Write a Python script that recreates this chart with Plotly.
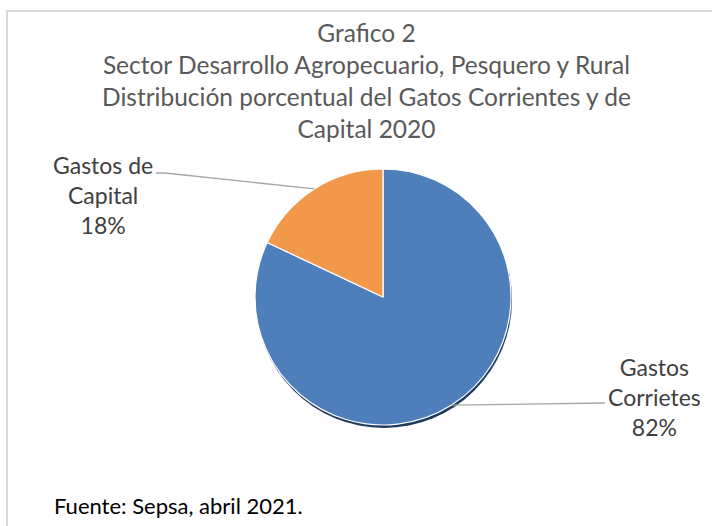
import math
import plotly.graph_objects as go

# ---- data ----
categories = ["Gastos Corrietes", "Gastos de Capital"]
values = [82, 18]
colors = ["#4e7fbb", "#f1984b"]
title_lines = [
    "Grafico 2",
    "Sector Desarrollo Agropecuario, Pesquero y Rural",
    "Distribución porcentual del Gatos Corrientes y de",
    "Capital 2020",
]
source_text = "Fuente: Sepsa, abril 2021."

W, H = 712, 526
FONT = "Lato"

# pie geometry (pixels)
cx, cy, r = 383, 297, 128


def px(x):
    return x / W


def py(y):
    return 1 - y / H


dom_x = [px(cx - r), px(cx + r)]
dom_y = [py(cy + r), py(cy - r)]
sh = 3  # shadow offset
dom_y_sh = [py(cy + r + sh), py(cy - r + sh)]
dom_x_sh = [px(cx - r + 1), px(cx + r + 1)]

fig = go.Figure()
# shadow
fig.add_trace(go.Pie(values=[1], marker=dict(colors=["#203a5e"]), textinfo="none",
                     hoverinfo="skip", sort=False, domain=dict(x=dom_x_sh, y=dom_y_sh),
                     showlegend=False))
fig.add_trace(go.Pie(labels=categories, values=values, sort=False, direction="clockwise",
                     rotation=0, marker=dict(colors=colors, line=dict(color="white", width=1.2)),
                     textinfo="none", domain=dict(x=dom_x, y=dom_y), showlegend=False))

# label positions (pixels) and leader-line bend points
total = sum(values)
label_pos = {"Gastos Corrietes": (654, 397), "Gastos de Capital": (103, 195)}
leader_end = {"Gastos Corrietes": [(605, 403)], "Gastos de Capital": [(165, 173), (156, 173)]}
label_text = {"Gastos Corrietes": "Gastos<br>Corrietes", "Gastos de Capital": "Gastos de<br>Capital"}

shapes = []
annotations = []
cum = 0
for cat, v in zip(categories, values):
    mid = (cum + v / 2) / total * 2 * math.pi
    cum += v
    ex = cx + r * math.sin(mid)
    ey = cy - r * math.cos(mid)
    pts = [(ex, ey)] + leader_end[cat]
    path = "M " + " L ".join(f"{px(a):.5f},{py(b):.5f}" for a, b in pts)
    shapes.append(dict(type="path", path=path, xref="paper", yref="paper",
                       line=dict(color="#a6a6a6", width=1.3)))
    lx, ly = label_pos[cat]
    annotations.append(dict(text=f"{label_text[cat]}<br>{round(v / total * 100)}%",
                            x=px(lx), y=py(ly), xref="paper", yref="paper",
                            xanchor="center", yanchor="middle", showarrow=False,
                            font=dict(family=FONT, size=23, color="#404040")))

annotations.append(dict(text="<br>".join(title_lines), x=px(366), y=py(80.5),
                        xref="paper", yref="paper", xanchor="center", yanchor="middle",
                        showarrow=False, font=dict(family=FONT, size=24.5, color="#595959")))
annotations.append(dict(text=source_text, x=px(52), y=py(505), xref="paper", yref="paper",
                        xanchor="left", yanchor="middle", showarrow=False,
                        font=dict(family=FONT, size=22, color="#000000")))

# chart border
shapes.append(dict(type="rect", xref="paper", yref="paper", x0=px(7), x1=1.02,
                   y0=-0.02, y1=py(11), line=dict(color="#d9d9d9", width=2)))

fig.update_layout(width=W, height=H, margin=dict(l=0, r=0, t=0, b=0),
                  paper_bgcolor="white", plot_bgcolor="white",
                  shapes=shapes, annotations=annotations, showlegend=False)

fig.write_html("out.html", config={"displayModeBar": False},
               post_script="document.body.style.margin='0';document.body.style.overflow='hidden';")
